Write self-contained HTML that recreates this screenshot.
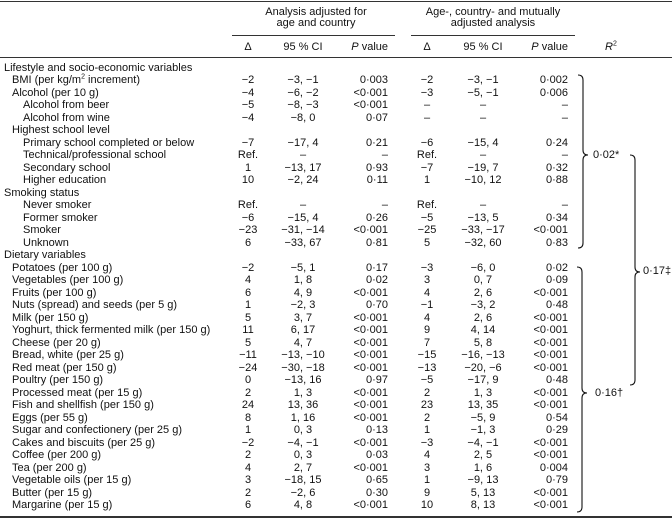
<!DOCTYPE html>
<html><head><meta charset="utf-8"><style>
body{margin:0;background:#fff;}
#t{position:relative;width:672px;height:519px;font-family:"Liberation Sans",sans-serif;font-size:11px;color:#111;overflow:hidden;}
.c{position:absolute;white-space:nowrap;line-height:12px;}
.ln{position:absolute;background:#333;}
</style></head><body>
<div id="t">
<div class="ln" style="left:0;top:1px;width:672px;height:1px"></div>
<div class="c" style="left:216px;width:200px;top:7px;text-align:center;line-height:11px">Analysis adjusted for<br>age and country</div>
<div class="c" style="left:393px;width:200px;top:7px;text-align:center;line-height:11px">Age-, country- and mutually<br>adjusted analysis</div>
<div class="ln" style="left:232px;top:35px;width:163px;height:1px"></div>
<div class="ln" style="left:411px;top:35px;width:164px;height:1px"></div>
<div class="ln" style="left:0;top:57px;width:672px;height:1px"></div>
<div class="ln" style="left:0;top:516px;width:672px;height:1.5px"></div>
<svg width="672" height="519" style="position:absolute;left:0;top:0">
<path d="M578,75 q5,0 5,5 v70 q0,5 5,5 q-5,0 -5,5 v83 q0,5 -5,5" fill="none" stroke="#111" stroke-width="1.1"/>
<path d="M577,267 q5,0 5,5 v116 q0,5 5,5 q-5,0 -5,5 v109 q0,5 -5,5" fill="none" stroke="#111" stroke-width="1.1"/>
<path d="M630,155 q5,0 5,5 v107 q0,5 5,5 q-5,0 -5,5 v103 q0,5 -5,5" fill="none" stroke="#111" stroke-width="1.1"/>
</svg>
<div class="c" style="left:593px;top:149px">0·02*</div>
<div class="c" style="left:595px;top:387px">0·16†</div>
<div class="c" style="left:643px;top:265px">0·17‡</div>
</div>
<script>
const labels=[["Lifestyle and socio-economic variables",0],["BMI (per kg/m<sup style='font-size:7px;line-height:0'>2</sup> increment)",1],["Alcohol (per 10 g)",1],["Alcohol from beer",2],["Alcohol from wine",2],["Highest school level",1],["Primary school completed or below",2],["Technical/professional school",2],["Secondary school",2],["Higher education",2],["Smoking status",0],["Never smoker",2],["Former smoker",2],["Smoker",2],["Unknown",2],["Dietary variables",0],["Potatoes (per 100 g)",1],["Vegetables (per 100 g)",1],["Fruits (per 100 g)",1],["Nuts (spread) and seeds (per 5 g)",1],["Milk (per 150 g)",1],["Yoghurt, thick fermented milk (per 150 g)",1],["Cheese (per 20 g)",1],["Bread, white (per 25 g)",1],["Red meat (per 150 g)",1],["Poultry (per 150 g)",1],["Processed meat (per 15 g)",1],["Fish and shellfish (per 150 g)",1],["Eggs (per 55 g)",1],["Sugar and confectionery (per 25 g)",1],["Cakes and biscuits (per 25 g)",1],["Coffee (per 200 g)",1],["Tea (per 200 g)",1],["Vegetable oils (per 15 g)",1],["Butter (per 15 g)",1],["Margarine (per 15 g)",1]];
const vals=[null,["−2","−3, −1","0·003","−2","−3, −1","0·002"],["−4","−6, −2","<0·001","−3","−5, −1","0·006"],["−5","−8, −3","<0·001","–","–","–"],["−4","−8, 0","0·07","–","–","–"],null,["−7","−17, 4","0·21","−6","−15, 4","0·24"],["Ref.","–","–","Ref.","–","–"],["1","−13, 17","0·93","−7","−19, 7","0·32"],["10","−2, 24","0·11","1","−10, 12","0·88"],null,["Ref.","–","–","Ref.","–","–"],["−6","−15, 4","0·26","−5","−13, 5","0·34"],["−23","−31, −14","<0·001","−25","−33, −17","<0·001"],["6","−33, 67","0·81","5","−32, 60","0·83"],null,["−2","−5, 1","0·17","−3","−6, 0","0·02"],["4","1, 8","0·02","3","0, 7","0·09"],["6","4, 9","<0·001","4","2, 6","<0·001"],["1","−2, 3","0·70","−1","−3, 2","0·48"],["5","3, 7","<0·001","4","2, 6","<0·001"],["11","6, 17","<0·001","9","4, 14","<0·001"],["5","4, 7","<0·001","7","5, 8","<0·001"],["−11","−13, −10","<0·001","−15","−16, −13","<0·001"],["−24","−30, −18","<0·001","−13","−20, −6","<0·001"],["0","−13, 16","0·97","−5","−17, 9","0·48"],["2","1, 3","<0·001","2","1, 3","<0·001"],["24","13, 36","<0·001","23","13, 35","<0·001"],["8","1, 16","<0·001","2","−5, 9","0·54"],["1","0, 3","0·13","1","−1, 3","0·29"],["−2","−4, −1","<0·001","−3","−4, −1","<0·001"],["2","0, 3","0·03","4","2, 5","<0·001"],["4","2, 7","<0·001","3","1, 6","0·004"],["3","−18, 15","0·65","1","−9, 13","0·79"],["2","−2, 6","0·30","9","5, 13","<0·001"],["6","4, 8","<0·001","10","8, 13","<0·001"]];
const t=document.getElementById('t');
function cell(html,style){const d=document.createElement('div');d.className='c';d.style.cssText=style;d.innerHTML=html;t.appendChild(d);return d;}
const pos=['left:223px;width:50px;text-align:center','left:268px;width:70px;text-align:center','left:330px;width:58px;text-align:right','left:402px;width:50px;text-align:center','left:448px;width:70px;text-align:center','left:510px;width:58px;text-align:right'];
const heads=['Δ','95 % CI','<i>P</i> value','Δ','95 % CI','<i>P</i> value'];
const hn=['col-delta-1','col-ci-1','col-p-1','col-delta-2','col-ci-2','col-p-2'];
heads.forEach((s,j)=>{const h=cell(s,pos[j]+';top:41px');
 
 });
let h=cell('<i>R</i><sup style="font-size:7px;line-height:0">2</sup>','left:605px;top:41px');


const y0=68,dy=12.49;
labels.forEach((l,i)=>{const y=y0+i*dy-6;
 const d=cell(l[0],'left:'+(l[1]===0?4:(l[1]===1?12:23))+'px;top:'+y+'px');
 
 
 const v=vals[i];if(!v)return;
 v.forEach((s,j)=>{const c=cell(s.replace('<','&lt;'),pos[j]+';top:'+y+'px');
  
  });
});
</script>
</body></html>
